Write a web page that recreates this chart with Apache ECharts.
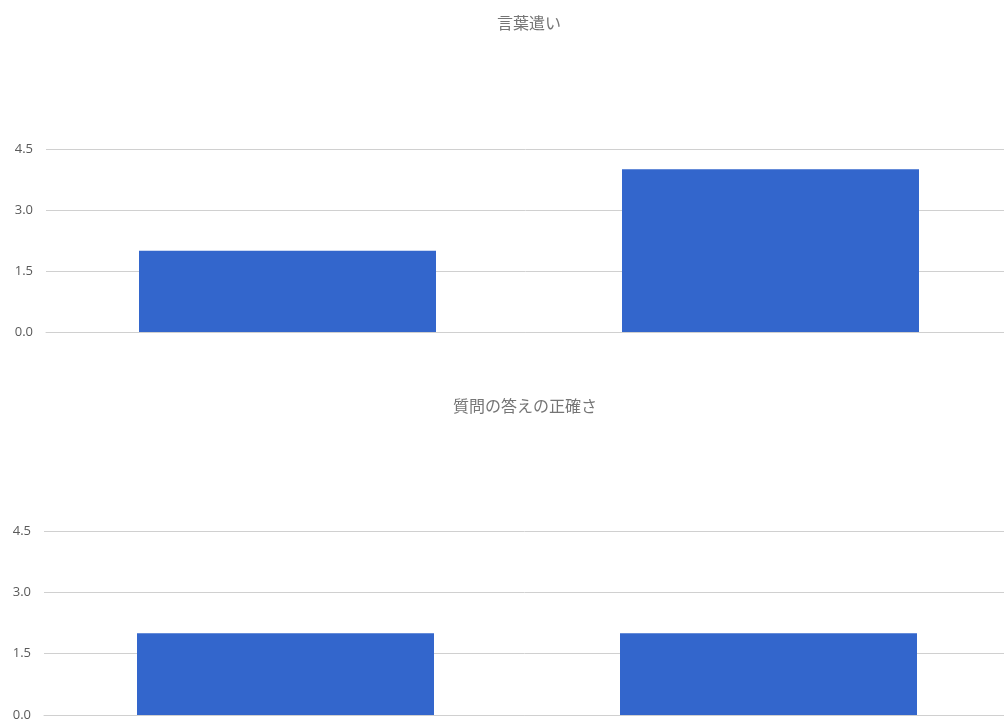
<!DOCTYPE html>
<html><head><meta charset="utf-8">
<script src="https://cdn.jsdelivr.net/npm/echarts@6/dist/echarts.min.js"></script>
<style>html,body{margin:0;padding:0;background:#fff}#c{width:1004px;height:725px}</style>
</head><body><div id="c"></div>
<script>
const titles = ['言葉遣い', '質問の答えの正確さ'];
const categories = ['1', '2'];
const valuesTop = [2, 4];
const valuesBottom = [2, 2];
const yTicks = [0, 1.5, 3.0, 4.5];

const chart = echarts.init(document.getElementById('c'));
const yAxisBase = {
  type: 'value', min: 0, max: 4.5, interval: 1.5,
  axisLine: {show: false}, axisTick: {show: false},
  axisLabel: {color: '#5a5a5a', fontSize: 13, fontFamily: 'Open Sans', margin: 13,
    formatter: v => v.toFixed(1)},
  splitLine: {lineStyle: {color: '#d0d0d0', width: 1}}
};
const xAxisBase = {
  type: 'category', data: categories,
  axisLine: {lineStyle: {color: '#d0d0d0'}}, axisTick: {show: false},
  axisLabel: {show: false}
};
const tStyle = {color: '#757575', fontSize: 16, fontWeight: 'normal', fontFamily: 'Noto Sans CJK JP'};
chart.setOption({
  animation: false,
  title: [
    {text: titles[0], left: 492, top: 10, textStyle: tStyle},
    {text: titles[1], left: 448, top: 393, textStyle: tStyle}
  ],
  grid: [
    {left: 46, top: 149, width: 966, height: 183, outerBoundsMode: 'none', containLabel: false},
    {left: 44, top: 531, width: 966, height: 184, outerBoundsMode: 'none', containLabel: false}
  ],
  xAxis: [Object.assign({gridIndex: 0}, xAxisBase), Object.assign({gridIndex: 1}, xAxisBase)],
  yAxis: [Object.assign({gridIndex: 0}, yAxisBase), Object.assign({gridIndex: 1}, yAxisBase)],
  series: [
    {type: 'bar', xAxisIndex: 0, yAxisIndex: 0, data: valuesTop, barWidth: 297, itemStyle: {color: '#3366cc'}},
    {type: 'bar', xAxisIndex: 1, yAxisIndex: 1, data: valuesBottom, barWidth: 297, itemStyle: {color: '#3366cc'}}
  ]
});
</script></body></html>
